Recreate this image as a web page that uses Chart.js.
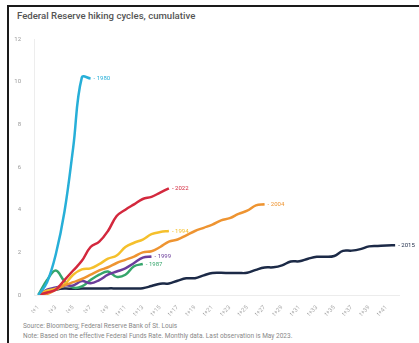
<!DOCTYPE html>
<html>
<head>
<meta charset="utf-8">
<script src="https://cdn.jsdelivr.net/npm/chart.js@4/dist/chart.umd.min.js"></script>
<style>
  html, body { margin:0; padding:0; background:#fff; width:419px; height:343px; overflow:hidden; }
  #frame { position:absolute; left:7px; top:5px; right:0; bottom:0; border-top:2px solid #1a1a1a; border-left:2px solid #1a1a1a; }
  #title { position:absolute; left:17px; top:10px; font-family:Roboto, sans-serif; font-weight:500; font-size:9.6px; color:#555; white-space:nowrap; }
  #wrap { position:absolute; left:0; top:0; width:419px; height:320px; }
  .note { position:absolute; left:23px; font-family:Roboto, sans-serif; font-size:6.5px; color:#888; white-space:nowrap; }
</style>
</head>
<body>
<div id="frame"></div>
<div id="title">Federal Reserve hiking cycles, cumulative</div>
<div id="wrap"><canvas id="c"></canvas></div>
<div class="note" style="top:322px">Source: Bloomberg; Federal Reserve Bank of St. Louis</div>
<div class="note" style="top:332px">Note: Based on the effective Federal Funds Rate. Monthly data. Last observation is May 2023.</div>
<script>
const months = ['t+1','t+2','t+3','t+4','t+5','t+6','t+7','t+8','t+9','t+10','t+11','t+12','t+13','t+14','t+15','t+16','t+17','t+18','t+19','t+20','t+21','t+22','t+23','t+24','t+25','t+26','t+27','t+28','t+29','t+30','t+31','t+32','t+33','t+34','t+35','t+36','t+37','t+38','t+39','t+40','t+41','t+42'];
const yTicks = [0, 2, 4, 6, 8, 10, 12];

const cycle1980 = [0, 0.6, 1.9, 3.9, 6.9, 10.2, 10.15];
const cycle2022 = [0, 0.12, 0.25, 0.7, 1.15, 1.6, 2.25, 2.5, 3.0, 3.7, 4.0, 4.25, 4.5, 4.6, 4.8, 5.0];
const cycle2004 = [0, 0.05, 0.25, 0.45, 0.6, 0.75, 0.95, 1.15, 1.3, 1.5, 1.65, 1.8, 2.0, 2.05, 2.25, 2.5, 2.6, 2.8, 3.0, 3.15, 3.3, 3.5, 3.6, 3.8, 3.95, 4.2, 4.25];
const cycle1994 = [0, 0.2, 0.3, 0.5, 0.95, 1.2, 1.25, 1.45, 1.7, 1.85, 2.25, 2.45, 2.6, 2.85, 2.95, 3.0];
const cycle1999 = [0, 0.25, 0.35, 0.45, 0.45, 0.65, 0.55, 0.7, 0.95, 1.1, 1.25, 1.5, 1.75, 1.8];
const cycle1987 = [0, 0.7, 1.15, 0.65, 0.35, 0.4, 0.7, 0.95, 1.1, 0.85, 0.95, 1.35, 1.45];
const cycle2015 = [0, 0.14, 0.25, 0.3, 0.29, 0.3, 0.3, 0.3, 0.31, 0.31, 0.31, 0.31, 0.32, 0.42, 0.53, 0.54, 0.67, 0.78, 0.79, 0.92, 1.03, 1.04, 1.03, 1.03, 1.04, 1.18, 1.29, 1.30, 1.39, 1.57, 1.58, 1.70, 1.79, 1.79, 1.83, 2.07, 2.08, 2.15, 2.28, 2.3, 2.32, 2.33];

const seriesNames = ['1980', '2022', '2004', '1994', '1999', '1987', '2015'];
const seriesData = [cycle1980, cycle2022, cycle2004, cycle1994, cycle1999, cycle1987, cycle2015];
const seriesColors = ['#27afd8', '#d3283d', '#ee9431', '#f5c02c', '#6b3d9b', '#35a56b', '#1c2a47'];

const endLabels = {
  id: 'endLabels',
  afterDatasetsDraw(chart) {
    const ctx = chart.ctx;
    ctx.save();
    ctx.font = '6px Roboto, sans-serif';
    ctx.textBaseline = 'middle';
    ctx.textAlign = 'left';
    chart.data.datasets.forEach((ds, i) => {
      const meta = chart.getDatasetMeta(i);
      const last = meta.data[meta.data.length - 1];
      ctx.fillStyle = ds.borderColor;
      ctx.fillText('- ' + ds.label, last.x + 3, last.y);
    });
    ctx.restore();
  }
};

new Chart(document.getElementById('c'), {
  type: 'line',
  data: {
    labels: months,
    datasets: seriesNames.map((n, i) => ({
      label: n,
      data: seriesData[i],
      borderColor: seriesColors[i],
      backgroundColor: seriesColors[i],
      borderWidth: 2.5,
      pointRadius: 0,
      tension: 0.4,
      fill: false
    }))
  },
  options: {
    responsive: true,
    maintainAspectRatio: false,
    animation: false,
    devicePixelRatio: 1,
    layout: { padding: { top: 39, right: 19.5, left: 0, bottom: 0 } },
    plugins: { legend: { display: false }, tooltip: { enabled: false }, title: { display: false } },
    scales: {
      x: {
        type: 'category',
        offset: true,
        grid: { display: false },
        border: { display: true, color: '#ececec', width: 1 },
        ticks: {
          autoSkip: false,
          maxRotation: 45,
          minRotation: 45,
          padding: 1,
          font: { size: 6, family: 'Roboto, sans-serif' },
          color: '#aaa',
          callback: (v, i) => (i % 2 === 0 ? months[i] : '')
        },
        afterFit: (s) => { s.height = 25; }
      },
      y: {
        min: 0,
        max: 12,
        grid: { display: false },
        border: { display: true, color: '#ededed', width: 1 },
        afterBuildTicks: (s) => { s.ticks = yTicks.map(v => ({ value: v })); },
        ticks: {
          padding: 5,
          font: { size: 6, family: 'Roboto, sans-serif' },
          color: '#999'
        },
        afterFit: (s) => { s.width = 34; }
      }
    }
  },
  plugins: [endLabels]
});
</script>
</body>
</html>
